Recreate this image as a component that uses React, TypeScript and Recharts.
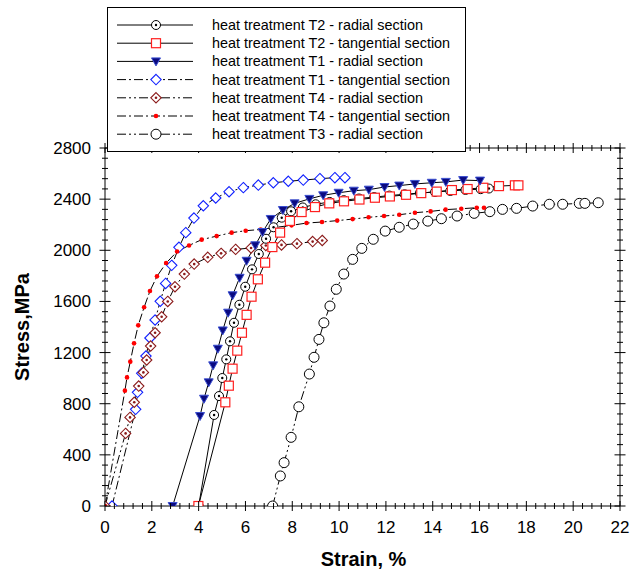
import React from 'react';
import { LineChart, Line, XAxis, YAxis, Legend } from 'recharts';

// strain (%) / stress (MPa)
const t2RadialStrain = [4.0, 4.66, 4.87, 5.01, 5.18, 5.34, 5.51, 5.74, 5.99, 6.28, 6.57, 6.88, 7.2, 7.55, 7.95, 8.45, 9.0, 9.6, 10.2, 10.85, 11.5, 12.15, 12.8, 13.45, 14.1, 14.75, 15.4, 16.05, 16.4];
const t2RadialStress = [0, 712, 860, 1001, 1147, 1288, 1433, 1574, 1715, 1851, 1971, 2090, 2180, 2255, 2305, 2335, 2360, 2378, 2392, 2405, 2416, 2428, 2438, 2448, 2456, 2464, 2472, 2478, 2483];

const t2TangStrain = [3.99, 5.14, 5.29, 5.45, 5.65, 5.85, 6.05, 6.26, 6.53, 6.84, 7.15, 7.48, 7.9, 8.4, 8.97, 9.58, 10.21, 10.87, 11.53, 12.17, 12.86, 13.51, 14.17, 14.82, 15.49, 16.16, 16.83, 17.51, 17.66];
const t2TangStress = [0, 811, 941, 1074, 1215, 1355, 1495, 1637, 1773, 1903, 2025, 2138, 2230, 2299, 2338, 2367, 2383, 2397, 2411, 2421, 2434, 2447, 2459, 2471, 2479, 2489, 2502, 2508, 2508];

const t1RadialStrain = [2.89, 4.06, 4.23, 4.43, 4.62, 4.82, 5.03, 5.26, 5.45, 5.75, 6.05, 6.42, 6.73, 7.08, 7.6, 8.1, 8.73, 9.32, 9.98, 10.63, 11.27, 11.94, 12.57, 13.24, 13.96, 14.56, 15.3, 16.02];
const t1RadialStress = [0, 704, 839, 967, 1100, 1230, 1373, 1512, 1648, 1785, 1918, 2039, 2143, 2245, 2315, 2367, 2402, 2430, 2450, 2466, 2474, 2495, 2506, 2519, 2528, 2535, 2549, 2545];

const t1TangStrain = [0.3, 1.31, 1.39, 1.57, 1.75, 1.92, 2.14, 2.36, 2.59, 2.85, 3.16, 3.45, 3.8, 4.2, 4.73, 5.3, 5.91, 6.55, 7.19, 7.83, 8.47, 9.18, 9.82, 10.25];
const t1TangStress = [0, 756, 889, 1038, 1173, 1314, 1455, 1601, 1741, 1882, 2023, 2138, 2252, 2348, 2409, 2458, 2490, 2510, 2528, 2540, 2549, 2560, 2568, 2568];

const t4RadialStrain = [0, 0.88, 1.07, 1.25, 1.44, 1.64, 1.78, 1.95, 2.14, 2.42, 2.68, 2.99, 3.39, 3.81, 4.39, 4.96, 5.58, 6.24, 6.87, 7.54, 8.2, 8.87, 9.28];
const t4RadialStress = [0, 568, 693, 811, 938, 1045, 1142, 1251, 1355, 1480, 1600, 1715, 1814, 1892, 1945, 1976, 2007, 2018, 2037, 2042, 2052, 2068, 2077];

const t4TangStrain = [0, 0.85, 0.94, 1.08, 1.24, 1.42, 1.67, 1.92, 2.22, 2.61, 3.08, 3.59, 4.13, 4.77, 5.41, 6.01, 6.65, 7.28, 7.97, 8.61, 9.27, 9.92, 10.58, 11.26, 11.92, 12.57, 13.24, 13.91, 14.55, 15.22, 15.88, 16.19];
const t4TangStress = [0, 902, 1006, 1129, 1272, 1413, 1554, 1681, 1796, 1900, 1990, 2038, 2083, 2111, 2138, 2153, 2163, 2179, 2195, 2213, 2221, 2232, 2244, 2258, 2268, 2278, 2294, 2304, 2318, 2325, 2333, 2333];

const t3RadialStrain = [7.16, 7.49, 7.65, 7.95, 8.28, 8.73, 8.93, 9.14, 9.35, 9.61, 9.88, 10.2, 10.58, 10.97, 11.46, 11.97, 12.57, 13.17, 13.79, 14.37, 15.04, 15.77, 16.44, 16.98, 17.58, 18.27, 18.98, 19.55, 20.26, 20.5, 21.07];
const t3RadialStress = [0, 235, 339, 537, 776, 1032, 1163, 1303, 1433, 1564, 1695, 1814, 1929, 2015, 2086, 2150, 2180, 2205, 2228, 2247, 2268, 2289, 2302, 2320, 2328, 2346, 2360, 2360, 2367, 2367, 2372];

const xTicks = Array.from({ length: 56 }, (_, i) => Math.round(i * 4) / 10);
const yTicks = Array.from({ length: 36 }, (_, i) => i * 80);

const DASH_DOT = '9 3 2 3';
const DASH_DOT_DOT = '9 3 2 3 2 3';

const zip = (xs: number[], ys: number[]) => xs.map((x, i) => ({ x, y: ys[i] }));

// legend order
const legendSeries = [
  { key: 't2r', name: 'heat treatment T2 - radial section', marker: 'circleDot', dash: undefined, data: zip(t2RadialStrain, t2RadialStress) },
  { key: 't2t', name: 'heat treatment T2 - tangential section', marker: 'square', dash: undefined, data: zip(t2TangStrain, t2TangStress) },
  { key: 't1r', name: 'heat treatment T1 - radial section', marker: 'triangle', dash: undefined, data: zip(t1RadialStrain, t1RadialStress) },
  { key: 't1t', name: 'heat treatment T1 - tangential section', marker: 'diamond', dash: DASH_DOT, data: zip(t1TangStrain, t1TangStress) },
  { key: 't4r', name: 'heat treatment T4 - radial section', marker: 'diamondDot', dash: DASH_DOT_DOT, data: zip(t4RadialStrain, t4RadialStress) },
  { key: 't4t', name: 'heat treatment T4 - tangential section', marker: 'dot', dash: DASH_DOT, data: zip(t4TangStrain, t4TangStress) },
  { key: 't3r', name: 'heat treatment T3 - radial section', marker: 'circle', dash: DASH_DOT_DOT, data: zip(t3RadialStrain, t3RadialStress) },
];

// drawing order (last on top)
const drawOrder = ['t3r', 't1t', 't4r', 't4t', 't2r', 't2t', 't1r'];

const Marker = ({ kind, cx, cy }: { kind: string; cx?: number; cy?: number }) => {
  if (cx == null || cy == null) return null;
  switch (kind) {
    case 'circleDot':
      return (
        <g>
          <circle cx={cx} cy={cy} r={4.5} fill="#fff" stroke="#000" strokeWidth={1} />
          <circle cx={cx} cy={cy} r={1.2} fill="#000" />
        </g>
      );
    case 'square':
      return <rect x={cx - 4.5} y={cy - 4.5} width={9} height={9} fill="#fff" stroke="#ff2020" strokeWidth={1.2} />;
    case 'triangle':
      return (
        <polygon
          points={`${cx - 4.5},${cy - 3.5} ${cx + 4.5},${cy - 3.5} ${cx},${cy + 4.5}`}
          fill="#0a0a80"
          stroke="#3a4ed0"
          strokeWidth={1}
        />
      );
    case 'diamond':
      return (
        <polygon
          points={`${cx},${cy - 5.2} ${cx + 5.2},${cy} ${cx},${cy + 5.2} ${cx - 5.2},${cy}`}
          fill="#fff"
          stroke="#1020ff"
          strokeWidth={1.1}
        />
      );
    case 'diamondDot':
      return (
        <g>
          <polygon
            points={`${cx},${cy - 5.2} ${cx + 5.2},${cy} ${cx},${cy + 5.2} ${cx - 5.2},${cy}`}
            fill="#fff"
            stroke="#8b1a1a"
            strokeWidth={1.1}
          />
          <circle cx={cx} cy={cy} r={1.3} fill="#8b1a1a" />
        </g>
      );
    case 'dot':
      return <circle cx={cx} cy={cy} r={2.3} fill="#ff0000" />;
    default:
      return <circle cx={cx} cy={cy} r={5} fill="#fff" stroke="#000" strokeWidth={1} />;
  }
};

const isMajor = (v: number, step: number) => Math.abs(v / step - Math.round(v / step)) < 1e-6;

const XTick = (props: any) => {
  const { x, y, payload, bottom } = props;
  const v = payload.value;
  const major = isMajor(v, 2);
  const len = major ? 5 : 3;
  return (
    <g>
      <line x1={x} x2={x} y1={y - len} y2={y + len} stroke="#000" strokeWidth={1} />
      {bottom && major && (
        <text x={x} y={y + 27} textAnchor="middle" fontSize={17} fontFamily="Liberation Sans, Arial, sans-serif" fill="#000">
          {v}
        </text>
      )}
    </g>
  );
};

const YTick = (props: any) => {
  const { x, y, payload, left } = props;
  const v = payload.value;
  const major = isMajor(v, 400);
  const len = major ? 5.5 : 3;
  return (
    <g>
      <line x1={x - len} x2={x + len} y1={y} y2={y} stroke="#000" strokeWidth={1} />
      {left && major && (
        <text x={x - 14} y={y + 6} textAnchor="end" fontSize={17} fontFamily="Liberation Sans, Arial, sans-serif" fill="#000">
          {v}
        </text>
      )}
    </g>
  );
};

const LegendBox = () => (
  <div
    style={{
      width: 359,
      height: 145,
      boxSizing: 'border-box',
      border: '1px solid #000',
      background: '#fff',
    }}
  >
    <svg width={357} height={143} style={{ display: 'block' }}>
      {legendSeries.map((s, i) => {
        const y = 17 + i * 18.2;
        return (
          <g key={s.key}>
            <line x1={9} x2={85} y1={y} y2={y} stroke="#000" strokeWidth={1} strokeDasharray={s.dash} />
            <Marker kind={s.marker} cx={48} cy={y} />
            <text x={104} y={y + 5} fontSize={14.4} fontFamily="Liberation Sans, Arial, sans-serif" fill="#000">
              {s.name}
            </text>
          </g>
        );
      })}
    </svg>
  </div>
);

const StrainLabel = (props: any) => {
  const { viewBox } = props;
  return (
    <text
      x={viewBox.x + viewBox.width / 2 + 1}
      y={566}
      textAnchor="middle"
      fontSize={20}
      fontWeight="bold"
      fontFamily="Liberation Sans, Arial, sans-serif"
      fill="#000"
    >
      Strain, %
    </text>
  );
};

const StressLabel = (props: any) => {
  const { viewBox } = props;
  const cy = viewBox.y + viewBox.height / 2;
  return (
    <text
      x={29}
      y={cy}
      transform={`rotate(-90, 29, ${cy})`}
      textAnchor="middle"
      fontSize={20}
      fontWeight="bold"
      fontFamily="Liberation Sans, Arial, sans-serif"
      fill="#000"
    >
      Stress,MPa
    </text>
  );
};

export default function App() {
  const ordered = drawOrder.map((k) => legendSeries.find((s) => s.key === k)!);
  return (
    <div style={{ position: 'absolute', left: 0, top: 0, background: '#fff' }}>
      <LineChart width={641} height={574} margin={{ top: 147, right: 20, bottom: 67, left: 104 }}>
        <XAxis
          xAxisId="b"
          type="number"
          dataKey="x"
          domain={[0, 22]}
          ticks={xTicks}
          interval={0}
          allowDataOverflow
          height={1}
          tickSize={0}
          tickMargin={0}
          tickLine={false}
          axisLine={{ stroke: '#000' }}
          tick={<XTick bottom />}
          label={StrainLabel}
        />
        <XAxis
          xAxisId="t"
          orientation="top"
          type="number"
          dataKey="x"
          domain={[0, 22]}
          ticks={xTicks}
          interval={0}
          allowDataOverflow
          height={1}
          tickSize={0}
          tickMargin={0}
          tickLine={false}
          axisLine={{ stroke: '#000' }}
          tick={<XTick />}
        />
        <YAxis
          yAxisId="l"
          type="number"
          domain={[0, 2800]}
          ticks={yTicks}
          interval={0}
          allowDataOverflow
          width={1}
          tickSize={0}
          tickMargin={0}
          tickLine={false}
          axisLine={{ stroke: '#000' }}
          tick={<YTick left />}
          label={StressLabel}
        />
        <YAxis
          yAxisId="r"
          orientation="right"
          type="number"
          domain={[0, 2800]}
          ticks={yTicks}
          interval={0}
          allowDataOverflow
          width={1}
          tickSize={0}
          tickMargin={0}
          tickLine={false}
          axisLine={{ stroke: '#000' }}
          tick={<YTick />}
        />
        {ordered.map((s) => (
          <Line
            key={s.key}
            xAxisId="b"
            yAxisId="l"
            data={s.data}
            dataKey="y"
            name={s.name}
            type="linear"
            stroke="#000"
            strokeWidth={1}
            strokeDasharray={s.dash}
            isAnimationActive={false}
            activeDot={false}
            dot={(p: any) => <Marker key={`${s.key}-${p.index}`} kind={s.marker} cx={p.cx} cy={p.cy} />}
          />
        ))}
        <Legend
          verticalAlign="middle"
          align="center"
          layout="horizontal"
          wrapperStyle={{ position: 'absolute', left: 107, top: 7, width: 359, height: 145 }}
          content={() => <LegendBox />}
        />
      </LineChart>
    </div>
  );
}
